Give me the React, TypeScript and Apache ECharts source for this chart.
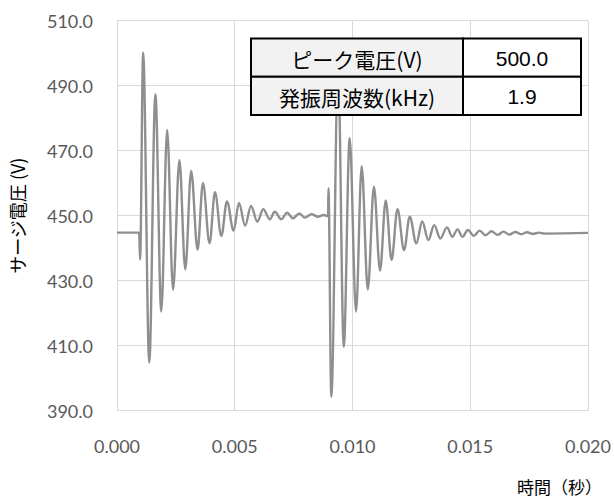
import React, { useEffect, useRef } from "react";
import * as echarts from "echarts";

// time (s) of each read-off turning point of the surge waveform
const times = [
  0, 0.00094, 0.00098, 0.00111, 0.00137, 0.00163, 0.00188, 0.00213, 0.00238, 0.00265,
  0.0029, 0.00315, 0.00342, 0.00365, 0.00393, 0.00416, 0.00443, 0.00467, 0.00495, 0.00518,
  0.00544, 0.00569, 0.00596, 0.00621, 0.00649, 0.0067, 0.00698, 0.00722, 0.00747, 0.00774,
  0.00798, 0.00826, 0.00852, 0.00877, 0.00896,
  0.00898, 0.0091, 0.00939, 0.00963, 0.00988, 0.01015, 0.01039, 0.01065, 0.01091, 0.01117,
  0.01141, 0.01166, 0.01191, 0.01219, 0.01243, 0.01271, 0.01296, 0.01322, 0.01347, 0.01373,
  0.01401, 0.01424, 0.01446, 0.01467, 0.0149, 0.01515, 0.0154, 0.01565, 0.0159, 0.01616,
  0.01641, 0.01666, 0.01691, 0.01716, 0.01741, 0.01766, 0.01792, 0.01817, 0.02,
];
// surge voltage (V) at those times
const volts = [
  444.8, 444.8, 436.5, 500.2, 404.8, 487.4, 420.5, 476.4, 427.2, 467.1,
  433.5, 463.8, 439.5, 460.1, 441.5, 457.2, 443.8, 454.4, 445.4, 453.9,
  446.9, 453.0, 448.2, 452.0, 448.9, 451.2, 448.9, 450.9, 449.2, 450.7,
  449.4, 450.5, 449.7, 450.2, 449.9,
  458.5, 394.3, 496.0, 409.7, 473.9, 420.5, 465.2, 427.3, 458.9, 433.1,
  454.7, 436.4, 452.0, 439.4, 449.7, 441.5, 448.2, 442.5, 447.1, 443.0,
  446.4, 443.5, 445.8, 443.5, 445.6, 443.8, 445.4, 444.0, 445.2, 444.1,
  445.1, 444.2, 445.0, 444.3, 444.9, 444.4, 444.8, 444.5, 444.7,
];

const xTicks = [0, 0.005, 0.01, 0.015, 0.02];
const yTicks = [390, 410, 430, 450, 470, 490, 510];

const tableLabels = ["ピーク電圧(V)", "発振周波数(kHz)"];
const tableValues = ["500.0", "1.9"];

const xName = "時間（秒）";
const yName = "サージ電圧 (V)";

export default function App() {
  const ref = useRef<HTMLDivElement>(null);
  useEffect(() => {
    if (!ref.current) return;
    const chart = echarts.init(ref.current, undefined, { renderer: "svg" });
    const data = times.map((t, i) => [t, volts[i]]);

    // table geometry
    const tx0 = 251, tx1 = 463, tx2 = 581, ty0 = 38.5, rowH = 38.2;
    const graphics: any[] = [];
    tableLabels.forEach((lab, r) => {
      const y = ty0 + r * rowH;
      graphics.push({
        type: "rect", z: 100,
        shape: { x: tx0, y, width: tx1 - tx0, height: rowH },
        style: { fill: "#f2f2f2", stroke: "#000", lineWidth: 2 },
      });
      graphics.push({
        type: "rect", z: 100,
        shape: { x: tx1, y, width: tx2 - tx1, height: rowH },
        style: { fill: "#ffffff", stroke: "#000", lineWidth: 2 },
      });
      graphics.push({
        type: "text", z: 101,
        style: {
          text: lab, x: (tx0 + tx1) / 2, y: y + rowH / 2 + 1,
          textAlign: "center", textVerticalAlign: "middle",
          font: '21px "Noto Sans CJK JP", sans-serif', fill: "#000",
        },
      });
      graphics.push({
        type: "text", z: 101,
        style: {
          text: tableValues[r], x: (tx1 + tx2) / 2, y: y + rowH / 2 + 1,
          textAlign: "center", textVerticalAlign: "middle",
          font: '21px "Liberation Sans", Arial, sans-serif', fill: "#000",
        },
      });
    });

    chart.setOption({
      animation: false,
      backgroundColor: "#ffffff",
      grid: { left: 113.5, right: 23.3, top: 20.7, bottom: 88.3, containLabel: false },
      xAxis: {
        type: "value",
        min: xTicks[0],
        max: xTicks[xTicks.length - 1],
        interval: xTicks[1] - xTicks[0],
        name: xName,
        nameLocation: "end",
        nameGap: 14,
        nameTextStyle: {
          align: "right", verticalAlign: "top", padding: [67, 0, 0, 0],
          fontSize: 17, color: "#000", fontFamily: '"Noto Sans CJK JP", sans-serif',
        },
        axisLine: { show: true, lineStyle: { color: "#d9d9d9", width: 1 } },
        axisTick: { show: false },
        splitLine: { show: true, lineStyle: { color: "#d9d9d9", width: 1 } },
        axisLabel: {
          margin: 26, fontSize: 18, color: "#595959", fontFamily: "Lato, sans-serif",
          formatter: (v: number) => v.toFixed(3),
        },
      },
      yAxis: {
        type: "value",
        min: yTicks[0],
        max: yTicks[yTicks.length - 1],
        interval: yTicks[1] - yTicks[0],
        name: yName,
        nameLocation: "middle",
        nameGap: 91,
        nameRotate: 90,
        nameTextStyle: {
          fontSize: 18, color: "#000", fontFamily: '"Noto Sans CJK JP", sans-serif',
        },
        axisLine: { show: true, lineStyle: { color: "#d9d9d9", width: 1 } },
        axisTick: { show: false },
        splitLine: { show: true, lineStyle: { color: "#d9d9d9", width: 1 } },
        axisLabel: {
          margin: 24, fontSize: 18, color: "#595959", fontFamily: "Lato, sans-serif",
          formatter: (v: number) => v.toFixed(1),
        },
      },
      series: [
        {
          type: "line",
          data,
          showSymbol: false,
          smooth: 0.35,
          smoothMonotone: "x",
          lineStyle: { color: "#8f8f8f", width: 2.4 },
          z: 2,
        },
      ],
      graphic: graphics,
    });
    return () => chart.dispose();
  }, []);
  return (
    <div
      ref={ref}
      style={{ position: "fixed", left: 0, top: 0, width: 614, height: 499, background: "#fff" }}
    />
  );
}
